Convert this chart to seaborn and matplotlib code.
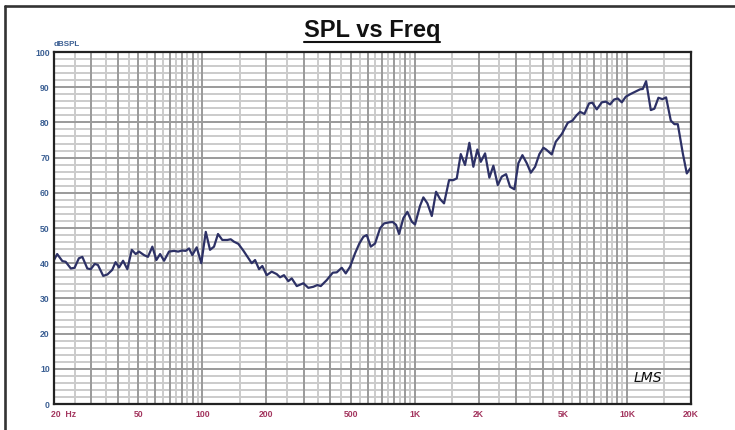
import numpy as np
import matplotlib
matplotlib.use('Agg')
import matplotlib.pyplot as plt
from matplotlib.lines import Line2D
import seaborn as sns

# Frequency response (Hz, dB SPL)
freq = [20.0, 20.7, 21.9, 22.7, 24.0, 25.0, 26.2, 27.2, 28.7, 29.8,
        31.1, 32.2, 34.1, 35.7, 37.6, 39.0, 40.5, 42.3, 44.3, 46.5,
        48.5, 50.3, 53.1, 55.4, 58.1, 60.7, 63.2, 66.0, 69.6, 73.5,
        76.8, 80.4, 83.4, 86.5, 89.6, 94.0, 98.8, 103.7, 108.6, 113.4,
        118.4, 124.1, 131.0, 135.9, 140.9, 147.6, 155.8, 164.6, 170.7, 177.0,
        184.8, 191.5, 200.9, 212.0, 223.9, 232.0, 242.2, 253.8, 263.4, 278.2,
        298.8, 315.4, 333.0, 347.8, 360.8, 385.0, 411.0, 429.2, 453.2, 473.2,
        495.8, 523.4, 548.4, 572.8, 594.2, 620.6, 650.2, 686.4, 717.0, 756.8,
        787.8, 816.4, 843.6, 883.8, 923.0, 968.2, 1003, 1059, 1098, 1147,
        1203, 1260, 1316, 1374, 1451, 1520, 1577, 1647, 1725, 1808,
        1888, 1972, 2046, 2144, 2246, 2346, 2460, 2570, 2692, 2812,
        2946, 3076, 3214, 3370, 3520, 3688, 3864, 4036, 4156, 4418,
        4614, 4926, 5258, 5526, 5798, 6008, 6296, 6622, 6864, 7198,
        7602, 7938, 8316, 8686, 9042, 9444, 9862, 10332, 10908, 11516,
        11858, 12290, 12934, 13448, 14046, 14668, 15266, 16066, 16704, 17332,
        18300, 19110, 19872]
spl = [40.9, 42.6, 40.6, 40.4, 38.5, 38.7, 41.4, 41.8, 38.5, 38.3,
       39.8, 39.5, 36.4, 36.8, 38.1, 40.3, 38.8, 40.7, 38.3, 43.8,
       42.6, 43.3, 42.3, 41.8, 44.7, 40.9, 42.6, 40.7, 43.3, 43.5,
       43.3, 43.6, 43.5, 44.2, 42.3, 44.5, 40.0, 48.9, 43.8, 44.7,
       48.3, 46.6, 46.6, 46.8, 46.1, 45.5, 43.6, 41.4, 40.0, 40.9,
       38.3, 39.2, 36.6, 37.6, 36.9, 36.0, 36.6, 34.9, 35.7, 33.5,
       34.3, 33.0, 33.3, 33.8, 33.5, 35.2, 37.3, 37.4, 38.7, 37.1,
       39.0, 42.8, 45.6, 47.5, 48.0, 44.7, 45.6, 49.9, 51.3, 51.6,
       51.7, 50.9, 48.3, 52.8, 54.6, 51.8, 51.0, 56.3, 58.7, 57.0,
       53.4, 60.3, 58.2, 57.0, 63.6, 63.6, 64.1, 71.0, 67.9, 74.2,
       67.4, 72.3, 68.8, 71.2, 64.3, 67.7, 62.2, 64.6, 65.3, 61.7,
       61.0, 68.4, 70.7, 68.4, 65.7, 67.4, 71.0, 72.8, 72.3, 70.9,
       74.5, 76.7, 79.9, 80.5, 82.1, 83.0, 82.4, 85.4, 85.6, 83.7,
       85.7, 85.9, 85.1, 86.5, 86.8, 85.7, 87.3, 88.0, 88.7, 89.4,
       89.5, 91.7, 83.5, 83.9, 87.0, 86.6, 87.1, 80.5, 79.5, 79.5,
       71.2, 65.5, 67.0]

x_ticks = [20, 50, 100, 200, 500, 1000, 2000, 5000, 10000, 20000]
x_labels = ['', '50', '100', '200', '500', '1K', '2K', '5K', '10K', '20K']
y_ticks = [0, 10, 20, 30, 40, 50, 60, 70, 80, 90, 100]

BLUE = '#3b5f93'
MAROON = '#a3355e'
LINE = '#2d3166'

sns.set_style('white')
plt.rcParams['font.family'] = ['Liberation Sans', 'DejaVu Sans']

fig = plt.figure(figsize=(7.35, 4.3), dpi=100)
ax = fig.add_axes([54 / 735, 26 / 430, 637 / 735, 352 / 430])
ax.set_xscale('log')
ax.set_xlim(20, 20000)
ax.set_ylim(0, 100)

# grid: dark at 1..9 x decade, light at the half steps; every 2 dB light, every 10 dB dark
dark_f = [m * 10 ** e for e in range(1, 5) for m in range(1, 10) if 20 <= m * 10 ** e <= 20000]
light_f = [(m + 0.5) * 10 ** e for e in range(1, 5) for m in range(1, 10) if 20 < (m + 0.5) * 10 ** e < 20000]
for f in light_f:
    ax.axvline(f, color='#cbcbcb', lw=1.4, zorder=1)
for v in range(2, 100, 2):
    if v % 10:
        ax.axhline(v, color='#cbcbcb', lw=1.4, zorder=1)
for f in dark_f:
    ax.axvline(f, color='#9a9a9a', lw=1.4, zorder=2)
for v in y_ticks:
    ax.axhline(v, color='#9a9a9a', lw=1.4, zorder=2)

sns.lineplot(x=freq, y=spl, ax=ax, color=LINE, lw=1.6, sort=False, estimator=None, zorder=5)

ax.set_xticks(x_ticks)
ax.set_xticklabels(x_labels)
ax.xaxis.set_minor_locator(matplotlib.ticker.NullLocator())
ax.set_yticks(y_ticks)
ax.set_yticklabels([str(v) for v in y_ticks])
ax.tick_params(axis='x', length=0, pad=4, labelsize=6.2, labelcolor=MAROON)
ax.tick_params(axis='y', length=0, pad=3, labelsize=6.2, labelcolor=BLUE)
for lab in ax.get_xticklabels() + ax.get_yticklabels():
    lab.set_fontweight('bold')
ax.annotate('20  Hz', xy=(20, 0), xycoords=('data', 'axes fraction'), xytext=(-2, -4),
            textcoords='offset points', ha='left', va='top', fontsize=6.2,
            fontweight='bold', color=MAROON)
ax.set_xlabel('')
ax.set_ylabel('')

for s in ax.spines.values():
    s.set_visible(True)
    s.set_color('#222222')
    s.set_linewidth(1.6)
    s.set_zorder(6)

fig.text(54 / 735, 1 - 46.5 / 430, 'dBSPL', fontsize=5.8, fontweight='bold', color=BLUE,
         ha='left', va='baseline')
ax.text(0.955, 0.055, 'LMS', transform=ax.transAxes, fontsize=10, style='italic',
        family='DejaVu Sans', fontweight='light', color='#111111', ha='right', va='bottom')

title = fig.text(372 / 735, 1 - 36.5 / 430, 'SPL vs Freq', fontsize=17, fontweight='bold',
                 color='#111111', ha='center', va='baseline')

# outer frame (left and top edges)
fig.add_artist(Line2D([4.5 / 735, 4.5 / 735], [0, 1 - 6.3 / 430], color='#333333', lw=1.9))
fig.add_artist(Line2D([4.5 / 735, 1], [1 - 6.3 / 430, 1 - 6.3 / 430], color='#333333', lw=1.9))

# underline the title
fig.canvas.draw()
bb = title.get_window_extent().transformed(fig.transFigure.inverted())
fig.add_artist(Line2D([bb.x0, bb.x1], [1 - 41.5 / 430, 1 - 41.5 / 430], color='#111111', lw=1.5))

fig.savefig('out.png', dpi=100)
